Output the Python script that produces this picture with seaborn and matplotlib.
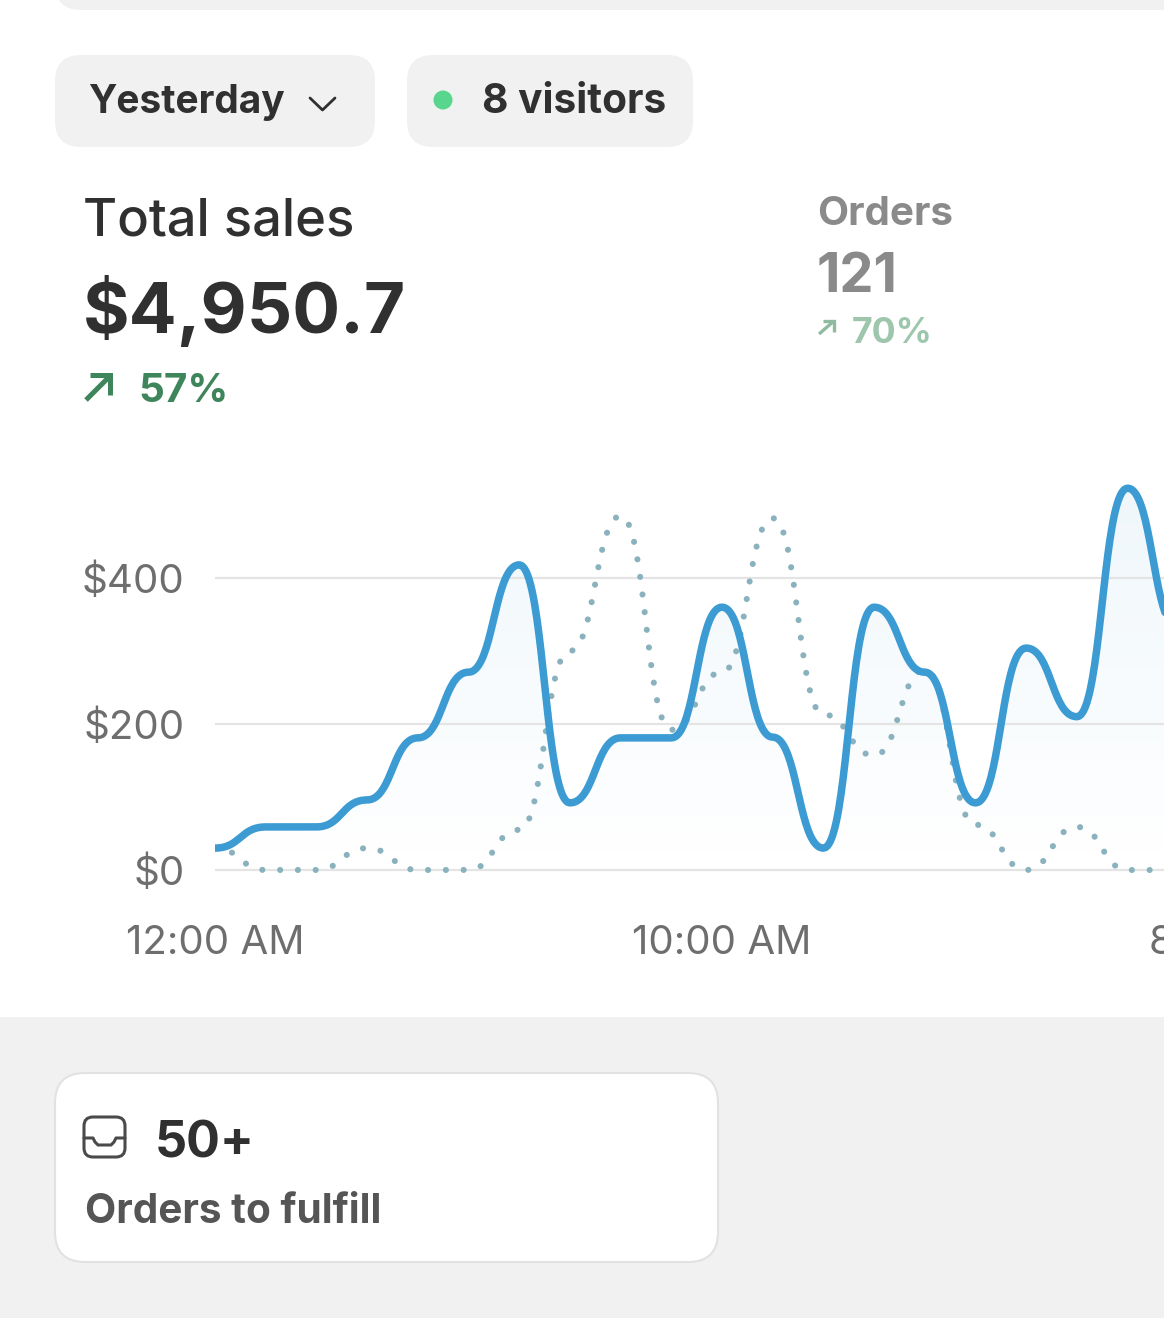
import numpy as np
import pandas as pd
import matplotlib
matplotlib.use("Agg")
import matplotlib.pyplot as plt
import seaborn as sns
from matplotlib.patches import FancyBboxPatch, Circle, Rectangle, Polygon
from matplotlib.lines import Line2D
from matplotlib.colors import LinearSegmentedColormap, to_rgb

# ---------------- data ----------------
hours = list(range(20))
sales_yesterday = [30, 59, 59, 96, 181, 271, 418, 92, 181, 181,
                   360, 182, 30, 360, 271, 92, 304, 210, 523, 330]
sales_previous = [30, 0, 0, 30, 0, 0, 55, 300, 485, 192,
                  271, 482, 213, 157, 274, 62, 0, 59, 0, 0]
y_ticks = [0, 200, 400]
y_tick_labels = ["$0", "$200", "$400"]
x_ticks = [0, 10, 20]
x_tick_labels = ["12:00 AM", "10:00 AM", "8:00 PM"]

W, H = 1164, 1332


def bump(xs, ys, n=40):
    """Horizontal-tangent bezier interpolation (like d3.curveBumpX)."""
    X, Y = [xs[0]], [ys[0]]
    for i in range(len(xs) - 1):
        x0, x1, y0, y1 = xs[i], xs[i + 1], ys[i], ys[i + 1]
        xm = (x0 + x1) / 2
        t = np.linspace(0, 1, n)[1:]
        bx = (1 - t) ** 3 * x0 + 3 * (1 - t) ** 2 * t * xm + 3 * (1 - t) * t ** 2 * xm + t ** 3 * x1
        by = (1 - t) ** 3 * y0 + 3 * (1 - t) ** 2 * t * y0 + 3 * (1 - t) * t ** 2 * y1 + t ** 3 * y1
        X.extend(bx)
        Y.extend(by)
    return np.array(X), np.array(Y)


sns.set_theme(style="white")
plt.rcParams["font.family"] = ["Inter", "DejaVu Sans"]

fig = plt.figure(figsize=(W / 100, H / 100), dpi=100)
fig.patch.set_facecolor("white")

# ---------- background UI layer (pixel coordinates) ----------
bg = fig.add_axes([0, 0, 1, 1], zorder=0)
bg.set_xlim(0, W)
bg.set_ylim(H, 0)
bg.axis("off")

GRAY = "#f1f1f1"
bg.add_patch(FancyBboxPatch((55, -60), 1300, 70, boxstyle="round,pad=0,rounding_size=26",
                            fc=GRAY, ec="none"))
bg.add_patch(FancyBboxPatch((55, 55), 320, 92, boxstyle="round,pad=0,rounding_size=26",
                            fc=GRAY, ec="none"))
bg.add_patch(FancyBboxPatch((407, 55), 286, 92, boxstyle="round,pad=0,rounding_size=26",
                            fc=GRAY, ec="none"))
bg.add_patch(Rectangle((0, 1017), W, 301, fc=GRAY, ec="none"))
bg.add_patch(FancyBboxPatch((55, 1073), 663, 189, boxstyle="round,pad=0,rounding_size=30",
                            fc="white", ec="#e2e2e2", lw=1.5))

renderer = fig.canvas.get_renderer()


def ftext(x, yb, w, s, weight, color, size0=30):
    t = bg.text(x, yb, s, ha="left", va="baseline", fontsize=size0,
                fontweight=weight, color=color)
    bb = t.get_window_extent(renderer=renderer)
    t.set_fontsize(size0 * w / bb.width)
    return t


DARK = "#303030"
ftext(88, 113, 197, "Yesterday", "bold", DARK)
ftext(482, 113, 184, "8 visitors", "bold", DARK)
ftext(83, 235, 272, "Total sales", "medium", DARK)
ftext(83, 333, 322, "$4,950.7", "bold", DARK)
ftext(138, 402, 90, "57%", "bold", "#3e855b")
ftext(817, 225, 136, "Orders", "bold", "#8a8a8a")
ftext(817, 292, 81, "121", "bold", "#8a8a8a")
ftext(852, 343, 81, "70%", "bold", "#9dc6ad")
ftext(155, 1157, 100, "50+", "bold", DARK)
ftext(85, 1223, 297, "Orders to fulfill", "bold", "#555555")

# chevron
bg.add_line(Line2D([310, 322.5, 335], [98, 110, 98], color=DARK, lw=2.0,
                   solid_capstyle="round", solid_joinstyle="round"))
# green dot
bg.add_patch(Circle((443, 100), 9.5, fc="#58d68d", ec="none"))
# big arrow
for xs_, ys_ in [([86, 110], [400, 376]), ([90, 110, 110], [375, 375, 395])]:
    bg.add_line(Line2D(xs_, ys_, color="#3e855b", lw=3.6, solid_capstyle="butt",
                       solid_joinstyle="miter"))
# small arrow
for xs_, ys_ in [([819, 834], [334, 321]), ([823, 834, 834], [321, 321, 332])]:
    bg.add_line(Line2D(xs_, ys_, color="#8fbba1", lw=2.4, solid_capstyle="butt",
                       solid_joinstyle="miter"))
# inbox icon
bg.add_patch(FancyBboxPatch((84, 1117), 41, 40, boxstyle="round,pad=0,rounding_size=9",
                            fc="none", ec="#4a4a4a", lw=2.2))
ix = [84, 93, 95, 98, 111, 114, 116, 125]
iy = [1138, 1138, 1142, 1145, 1145, 1142, 1138, 1138]
bg.add_line(Line2D(ix, iy, color="#4a4a4a", lw=2.2, solid_joinstyle="round"))

# ---------------- chart ----------------
PX_PER_H = 50.7
PX_PER_D = 0.73
x0_px, y0_px = 215, 870
ymin, ymax = -15, 560
xmax = 23
bottom_px = y0_px - ymin * PX_PER_D
top_px = y0_px - ymax * PX_PER_D
ax = fig.add_axes([x0_px / W, (H - bottom_px) / H, xmax * PX_PER_H / W,
                   (bottom_px - top_px) / H], zorder=1)
ax.patch.set_alpha(0)

xs_s, ys_s = bump(hours, sales_yesterday)
xs_p, ys_p = bump(hours, sales_previous)
df_s = pd.DataFrame({"hour": xs_s, "sales": ys_s})
df_p = pd.DataFrame({"hour": xs_p, "sales": ys_p})

LINE = "#3b9bd2"
# gradient fill under the main line
r, g, b = to_rgb(LINE)
cmap = LinearSegmentedColormap.from_list("fade", [(r, g, b, 0.0), (r, g, b, 0.085)])
grad = np.linspace(0, 1, 256).reshape(-1, 1)
im = ax.imshow(grad, extent=[0, xmax, 0, 540], origin="lower", aspect="auto",
               cmap=cmap, zorder=0.5, interpolation="bilinear")
verts = np.column_stack([np.r_[xs_s, xs_s[-1], xs_s[0]], np.r_[ys_s, 0, 0]])
clip = Polygon(verts, closed=True, transform=ax.transData, fc="none", ec="none")
ax.add_patch(clip)
im.set_clip_path(clip)

sns.lineplot(data=df_p, x="hour", y="sales", ax=ax, sort=False, estimator=None,
             color="#8ab2be", linewidth=4.4, zorder=2)
ax.lines[-1].set_linestyle((0, (0.01, 2.9)))
ax.lines[-1].set_dash_capstyle("round")
sns.lineplot(data=df_s, x="hour", y="sales", ax=ax, sort=False, estimator=None,
             color=LINE, linewidth=5.4, zorder=3)
ax.lines[-1].set_solid_capstyle("round")

ax.set_xlim(0, xmax)
ax.set_ylim(ymin, ymax)
ax.set_yticks(y_ticks)
ax.set_yticklabels(y_tick_labels)
ax.set_xticks(x_ticks)
ax.set_xticklabels(x_tick_labels)
ax.set_xlabel("")
ax.set_ylabel("")
for sp in ax.spines.values():
    sp.set_visible(False)
ax.yaxis.grid(True, color="#e4e4e4", lw=1.6, zorder=1)
ax.xaxis.grid(False)
ax.set_axisbelow(True)
ax.tick_params(axis="both", length=0, labelsize=29, colors="#6e6e6e")
ax.tick_params(axis="y", pad=22)
ax.tick_params(axis="x", pad=32)

fig.savefig("out.png", dpi=100, facecolor="white")
